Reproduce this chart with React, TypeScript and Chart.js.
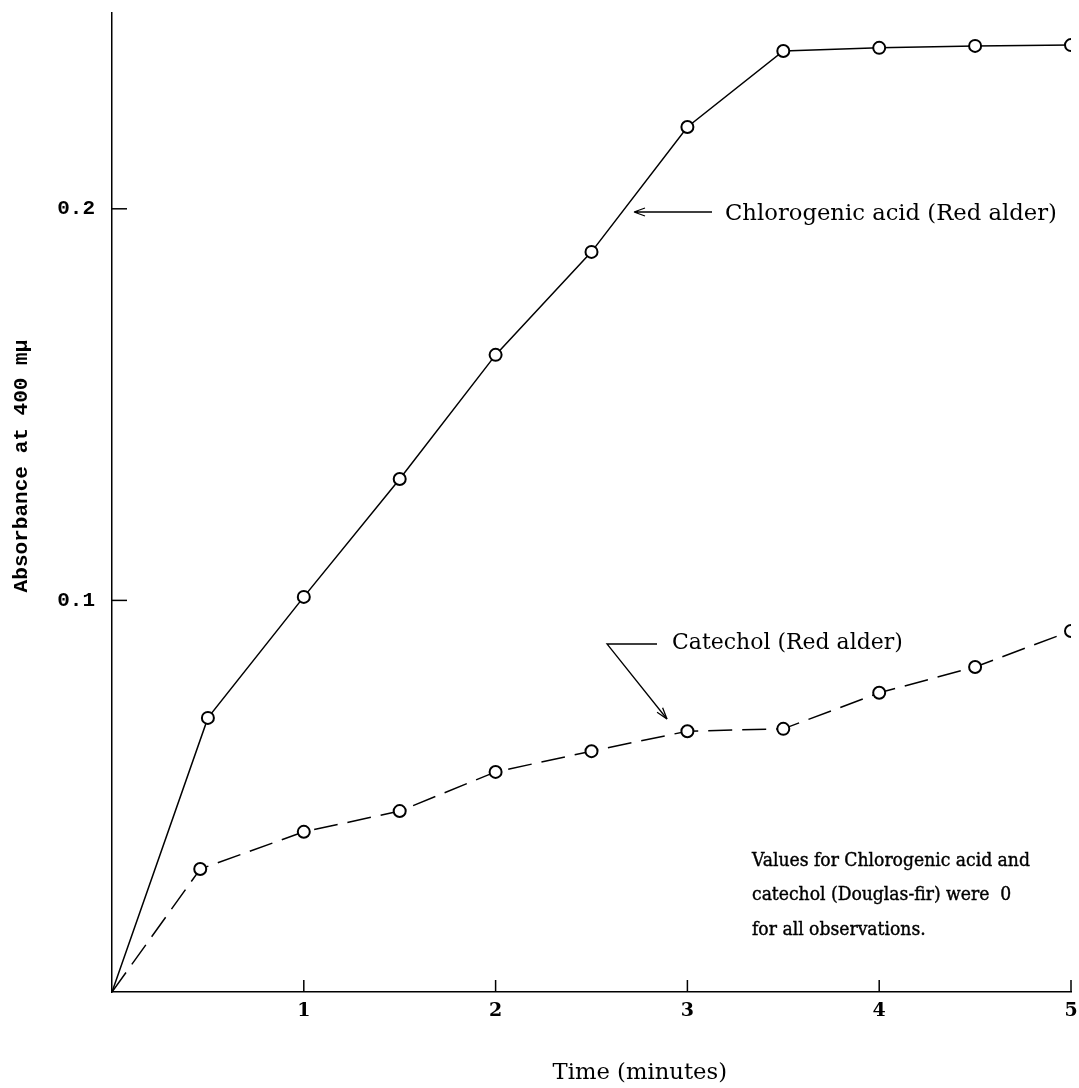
import React, { useEffect, useRef } from "react";
import { Chart, registerables } from "chart.js";

Chart.register(...registerables);

const chloroTimes = [0, 0.5, 1, 1.5, 2, 2.5, 3, 3.5, 4, 4.5, 5];
const chloroValues = [0, 0.07, 0.1009, 0.131, 0.1627, 0.189, 0.2209, 0.2403, 0.2411, 0.2416, 0.2418];
const catTimes = [0, 0.46, 1, 1.5, 2, 2.5, 3, 3.5, 4, 4.5, 5];
const catValues = [0, 0.0314, 0.0409, 0.0462, 0.0562, 0.0615, 0.0666, 0.0672, 0.0764, 0.083, 0.0922];
const xTickValues = [1, 2, 3, 4, 5];
const yTickValues = [0.1, 0.2];

const xTitle = "Time (minutes)";
const yTitle = "Absorbance at 400 m\u03bc";
const chloroLabel = "Chlorogenic acid (Red alder)";
const catLabel = "Catechol (Red alder)";
const noteLines = [
  "Values for Chlorogenic acid and",
  "catechol (Douglas-fir) were  0",
  "for all observations.",
];

const SERIF = '"DejaVu Serif", serif';
const NOTE_SERIF = '"DejaVu Serif Condensed", "DejaVu Serif", serif';
const MONO = '"Liberation Mono", monospace';

function fitSize(ctx: CanvasRenderingContext2D, text: string, family: string, weight: string, width: number) {
  ctx.font = `${weight} 100px ${family}`;
  const w = ctx.measureText(text).width;
  return (100 * width) / w;
}

const annotate = {
  id: "annotate",
  afterDraw(chart: any) {
    const ctx: CanvasRenderingContext2D = chart.ctx;
    const xs = chart.scales.x;
    const ys = chart.scales.y;
    const area = chart.chartArea;
    ctx.save();
    ctx.strokeStyle = "#000";
    ctx.fillStyle = "#000";
    ctx.lineWidth = 1.5;
    // inward tick marks
    xTickValues.forEach((v) => {
      const px = xs.getPixelForValue(v);
      ctx.beginPath();
      ctx.moveTo(px, area.bottom);
      ctx.lineTo(px, area.bottom - 12);
      ctx.stroke();
    });
    yTickValues.forEach((v) => {
      const py = ys.getPixelForValue(v);
      ctx.beginPath();
      ctx.moveTo(area.left, py);
      ctx.lineTo(area.left + 15, py);
      ctx.stroke();
    });

    ctx.textBaseline = "middle";
    // y title
    {
      const s = fitSize(ctx, yTitle, MONO, "bold", 253);
      ctx.font = `bold ${s}px ${MONO}`;
      ctx.save();
      ctx.translate(22, 466);
      ctx.rotate(-Math.PI / 2);
      ctx.textAlign = "center";
      ctx.fillText(yTitle, 0, 0);
      ctx.restore();
    }
    // x title
    {
      const s = fitSize(ctx, chloroLabel, SERIF, "normal", 332);
      ctx.font = `normal ${s}px ${SERIF}`;
      ctx.textAlign = "right";
      ctx.fillText(xTitle, 727, 1073);
    }
    // chlorogenic label + arrow
    {
      const s = fitSize(ctx, chloroLabel, SERIF, "normal", 332);
      ctx.font = `normal ${s}px ${SERIF}`;
      ctx.textAlign = "left";
      ctx.fillText(chloroLabel, 725, 214);
      ctx.lineWidth = 1.3;
      ctx.beginPath();
      ctx.moveTo(712, 212);
      ctx.lineTo(634, 212);
      ctx.moveTo(634, 212);
      ctx.lineTo(645, 208);
      ctx.moveTo(634, 212);
      ctx.lineTo(645, 216);
      ctx.stroke();
    }
    // catechol label + arrow
    {
      const s = fitSize(ctx, catLabel, SERIF, "normal", 231);
      ctx.font = `normal ${s}px ${SERIF}`;
      ctx.textAlign = "left";
      ctx.fillText(catLabel, 672, 643);
      ctx.lineWidth = 1.3;
      ctx.beginPath();
      ctx.moveTo(657, 644);
      ctx.lineTo(607, 644);
      ctx.lineTo(667, 719);
      ctx.stroke();
      const ang = Math.atan2(719 - 644, 667 - 607);
      const hl = 12;
      ctx.beginPath();
      ctx.moveTo(667, 719);
      ctx.lineTo(667 - hl * Math.cos(ang - 0.3), 719 - hl * Math.sin(ang - 0.3));
      ctx.moveTo(667, 719);
      ctx.lineTo(667 - hl * Math.cos(ang + 0.3), 719 - hl * Math.sin(ang + 0.3));
      ctx.stroke();
    }
    // note
    {
      const s = fitSize(ctx, noteLines[0], NOTE_SERIF, "normal", 278);
      ctx.font = `normal ${s}px ${NOTE_SERIF}`;
      ctx.textAlign = "left";
      ctx.lineWidth = 0.4;
      const ys2 = [861, 895, 930];
      noteLines.forEach((t, i) => {
        ctx.fillText(t, 752, ys2[i]);
        ctx.strokeText(t, 752, ys2[i]);
      });
    }
    ctx.restore();
  },
};

export default function App() {
  const ref = useRef<HTMLCanvasElement>(null);
  useEffect(() => {
    if (!ref.current) return;
    const chart = new Chart(ref.current, {
      type: "line",
      data: {
        datasets: [
          {
            label: "Chlorogenic acid (Red alder)",
            data: chloroTimes.map((t, i) => ({ x: t, y: chloroValues[i] })),
            borderColor: "#000",
            borderWidth: 1.5,
            pointRadius: (c: any) => (c.dataIndex === 0 ? 0 : 6),
            pointBackgroundColor: "#fff",
            pointBorderColor: "#000",
            pointBorderWidth: 2,
            fill: false,
            tension: 0,
          },
          {
            label: "Catechol (Red alder)",
            data: catTimes.map((t, i) => ({ x: t, y: catValues[i] })),
            borderColor: "#000",
            borderWidth: 1.5,
            borderDash: [24, 10],
            pointRadius: (c: any) => (c.dataIndex === 0 ? 0 : 6),
            pointBackgroundColor: "#fff",
            pointBorderColor: "#000",
            pointBorderWidth: 2,
            fill: false,
            tension: 0,
          },
        ],
      },
      options: {
        responsive: false,
        maintainAspectRatio: false,
        devicePixelRatio: 1,
        animation: false,
        layout: { padding: { top: 13, right: 7, left: 0, bottom: 0 } },
        plugins: { legend: { display: false }, tooltip: { enabled: false } },
        scales: {
          x: {
            type: "linear",
            min: 0,
            max: 5,
            afterFit: (s: any) => {
              s.height = 96;
              s.paddingLeft = 0;
              s.paddingRight = 0;
            },
            afterBuildTicks: (s: any) => {
              s.ticks = [0, ...xTickValues].map((v) => ({ value: v }));
            },
            grid: { display: false, drawTicks: false },
            border: { display: true, color: "#000", width: 1.5 },
            ticks: {
              callback: (v: any) => (v === 0 ? "" : String(v)),
              font: { family: SERIF, size: 19, weight: "bold" },
              color: "#000",
              padding: 8,
              maxRotation: 0,
              autoSkip: false,
            },
          },
          y: {
            type: "linear",
            min: 0,
            max: 0.25,
            afterFit: (s: any) => {
              s.width = 112;
              s.paddingTop = 0;
              s.paddingBottom = 0;
            },
            afterBuildTicks: (s: any) => {
              s.ticks = yTickValues.map((v) => ({ value: v }));
            },
            grid: { display: false, drawTicks: false },
            border: { display: true, color: "#000", width: 1.5 },
            ticks: {
              callback: (v: any) => Number(v).toFixed(1),
              font: { family: MONO, size: 21, weight: "bold" },
              color: "#000",
              padding: 17,
              autoSkip: false,
            },
          },
        },
      },
      plugins: [annotate],
    } as any);
    return () => chart.destroy();
  }, []);
  return (
    <div style={{ position: "fixed", left: 0, top: 0, width: 1079, height: 1088, background: "#fff" }}>
      <canvas ref={ref} width={1079} height={1088} style={{ display: "block" }} />
    </div>
  );
}
